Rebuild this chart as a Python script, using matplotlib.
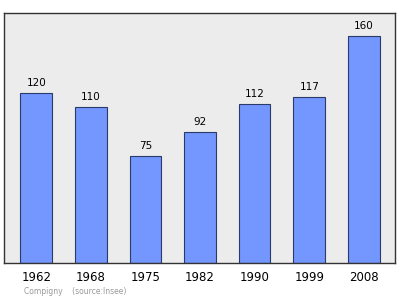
import matplotlib.pyplot as plt

years = ['1962', '1968', '1975', '1982', '1990', '1999', '2008']
population = [120, 110, 75, 92, 112, 117, 160]

fig = plt.figure(figsize=(4.0, 2.99), dpi=100)
ax = fig.add_axes([4 / 400, 1 - 263 / 299, 391 / 400, 250 / 299])
ax.set_facecolor('#ececec')

x = range(len(years))
ax.bar(x, population, width=0.58, color='#7396ff', edgecolor='#2b3a66', linewidth=0.8, zorder=2)

for i, v in zip(x, population):
    ax.text(i, v + 3.5, str(v), ha='center', va='bottom', fontsize=7.5, color='black')

ax.set_xlim(-0.59, 6.57)
ax.set_ylim(0, 176)
ax.set_xticks(list(x))
ax.set_xticklabels(years, fontsize=8.5)
ax.set_yticks([])
ax.tick_params(axis='x', length=0, pad=6)

for s in ax.spines.values():
    s.set_color('#333333')
    s.set_linewidth(1.0)

fig.text(24 / 400, 1 - 292 / 299, 'Compigny    (source:Insee)', fontsize=5.5, color='#999999', va='center')

fig.savefig('out.png', dpi=100)
